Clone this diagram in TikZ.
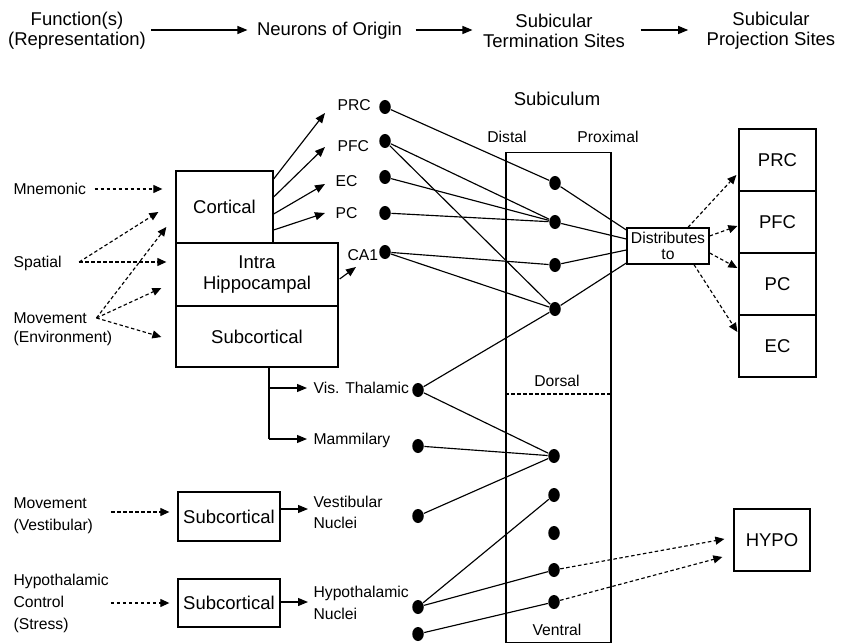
\documentclass[tikz,border=0pt]{standalone}
\usepackage{fontspec}
\setmainfont{Liberation Sans}
\usetikzlibrary{arrows.meta,shapes.geometric,calc}
\begin{document}
\begin{tikzpicture}[x=1pt,y=-1pt,line width=1.15pt,
  big/.style={font=\fontsize{18.5}{20}\selectfont, inner sep=0pt, align=center},
  sm/.style={font=\fontsize{15.7}{19}\selectfont, inner sep=0pt, anchor=west},
  smc/.style={font=\fontsize{15.7}{19}\selectfont, inner sep=0pt},
  box/.style={draw, line width=1.3pt, inner sep=0pt, font=\fontsize{18.5}{21}\selectfont, align=center},
  dot/.style={ellipse, fill=black, minimum width=11.5pt, minimum height=14pt, inner sep=0pt},
  arr/.style={-{Triangle[length=10pt,width=8pt]}},
  darr/.style={dash pattern=on 3.5pt off 2.5pt, -{Triangle[length=9pt,width=8pt]}},
  dsh/.style={dash pattern=on 3.5pt off 2.5pt}
]
\useasboundingbox (0,0) rectangle (842,644);

% header
\node[big] (fn) at (77,31) {Function(s)\\(Representation)};
\node[big] (neur) at (329.5,31) {Neurons of Origin};
\node[big] (term) at (554,31) {Subicular\\Termination Sites};
\node[big] (proj) at (771,31) {Subicular\\Projection Sites};
\draw[arr] ($(fn.east |- neur.west)+(5,-1)$) -- ($(neur.west)+(-9,-1)$);
\draw[arr] ($(neur.east)+(13,-1)$) -- ($(term.west |- neur.west)+(-10,-1)$);
\draw[arr] ($(term.east |- neur.west)+(15,-1)$) -- ($(proj.west |- neur.west)+(-18,-1)$);

% subiculum
\node[big] (subic) at (557,99) {Subiculum};
\node[smc] (distal) at (507,137) {Distal};
\node[smc] (prox) at (608,137) {Proximal};
\node[draw, minimum width=105pt, minimum height=490pt, inner sep=0pt] (sub) at (558.5,397.5) {};
\node[smc] (dorsal) at (557,381) {Dorsal};
\coordinate (dl) at (0,394);
\draw[dsh] (sub.west |- dl) -- (sub.east |- dl);
\node[smc] (ventral) at (557,630) {Ventral};

% left labels
\node[sm] (mnem) at (13,189) {Mnemonic};
\node[sm] (spat) at (13,263) {Spatial};
\node[sm] (mov) at (13,318) {Movement};
\node[sm] (env) at (13,338) {(Environment)};

% left boxes
\node[box, minimum width=97pt, minimum height=72pt] (cort) at (224.5,207) {Cortical};
\node[box, minimum width=162pt, minimum height=63pt] (intra) at (257,274.5) {Intra\\Hippocampal};
\node[box, minimum width=162pt, minimum height=61pt] (subc) at (257,336.5) {Subcortical};

% function arrows
\draw[darr] ($(mnem.east)+(8,0)$) -- ($(cort.west)+(-13,-18)$);
\draw[darr] ($(spat.east)+(17,-1)$) -- ($(cort.west)+(-17,5)$);
\draw[darr] ($(spat.east)+(17,-1)$) -- ($(intra.west)+(-9,-12.5)$);
\draw[darr] ($(mov.east)+(9,0)$) -- ($(cort.west)+(-9,20)$);
\draw[darr] ($(mov.east)+(9,0)$) -- ($(intra.west)+(-14,13.5)$);
\draw[darr] ($(mov.east)+(9,0)$) -- ($(subc.west)+(-14,0.5)$);

% neuron labels
\node[sm] (lprc) at (337,105) {PRC};
\node[sm] (lpfc) at (337,146) {PFC};
\node[sm] (lec) at (335,181) {EC};
\node[sm] (lpc) at (335,213) {PC};
\node[sm] (lca) at (347,255) {CA1};

\draw[arr] ($(cort.east)+(0,-28)$) -- ($(lprc.west)+(-12,8)$);
\draw[arr] ($(cort.east)+(0,-10)$) -- ($(lpfc.west)+(-12,1)$);
\draw[arr] ($(cort.east)+(0,7)$) -- ($(lec.west)+(-10,3)$);
\draw[arr] ($(cort.east)+(0,23)$) -- ($(lpc.west)+(-10,0)$);
\draw[arr] ($(intra.east)+(1,4.5)$) -- ($(lca.west)+(9,12)$);

% subcortical branches
\node[sm] (lvis) at (313,388) {Vis. Thalamic};
\node[sm] (lmam) at (313,440) {Mammilary};
\coordinate (j1) at (269,388);
\coordinate (j2) at (269,439);
\draw (subc.south -| j1) -- (j2);
\draw[arr] (j1) -- ($(lvis.west)+(-6,0)$);
\draw[arr] (j2) -- ($(lmam.west)+(-6,-1)$);

% vestibular
\node[sm] (mov2) at (13,503) {Movement};
\node[sm] (vest) at (13,526) {(Vestibular)};
\node[box, minimum width=102pt, minimum height=49pt] (sc2) at (229,516.5) {Subcortical};
\draw[darr] ($(mov2.east)+(24,9)$) -- ($(sc2.west)+(-8,-4.5)$);
\node[sm] (lvb) at (313,502) {Vestibular};
\node[sm] (lnu1) at (313,523) {Nuclei};
\draw[arr] ($(sc2.east)+(0,-7.5)$) -- ($(lvb.west)+(-5,7)$);

% hypothalamic
\node[sm] (hy1) at (13,581) {Hypothalamic};
\node[sm] (ctrl) at (13,602) {Control};
\node[sm] (strs) at (13,625) {(Stress)};
\node[box, minimum width=102pt, minimum height=48pt] (sc3) at (229,603) {Subcortical};
\draw[darr] ($(ctrl.east)+(46,1)$) -- ($(sc3.west)+(-8,0)$);
\node[sm] (lhn) at (313,593) {Hypothalamic};
\node[sm] (lnu2) at (313,614) {Nuclei};
\draw[arr] ($(sc3.east)+(0,-1)$) -- ($(lhn.west)+(-5,9)$);

% dots
\node[dot] (p1) at (385,107) {};
\node[dot] (p2) at (385,141) {};
\node[dot] (p3) at (385,177) {};
\node[dot] (p4) at (385,213) {};
\node[dot] (ca) at (385,252) {};
\node[dot] (r1) at (555,183) {};
\node[dot] (r2) at (555,222) {};
\node[dot] (r3) at (555,265) {};
\node[dot] (r4) at (555,309) {};
\node[dot] (v1) at (418,390) {};
\node[dot] (v2) at (418,446) {};
\node[dot] (v3) at (418,516) {};
\node[dot] (v4) at (418,607) {};
\node[dot] (v5) at (418,634) {};
\node[dot] (r5) at (554,456) {};
\node[dot] (r6) at (554,495) {};
\node[dot] (r7) at (554,533) {};
\node[dot] (r8) at (554,570) {};
\node[dot] (r9) at (554,602) {};

\draw (p1) -- (r1);
\draw (p2) -- (r2);
\draw (p2) -- (r4);
\draw (p3) -- (r2);
\draw (p4) -- (r2);
\draw (ca) -- (r3);
\draw (ca) -- (r4);
\draw (v1) -- (r4);
\draw (v1) -- (r5);
\draw (v2) -- (r5);
\draw (v3) -- (r5);
\draw (v4) -- (r6);
\draw (v4) -- (r8);
\draw (v5) -- (r9);

% distributes
\node[draw, line width=1.3pt, minimum width=82pt, minimum height=36pt, inner sep=0pt,
  font=\fontsize{15.7}{15.7}\selectfont, align=center] (dist) at (668,246) {Distributes\\to};
\draw (r1) -- ($(dist.west)+(0,-16)$);
\draw (r2) -- ($(dist.west)+(0,-7)$);
\draw (r3) -- ($(dist.west)+(0,4)$);
\draw (r4) -- ($(dist.west)+(0,17)$);

% projection boxes
\node[box, minimum width=77pt, minimum height=62pt] (prcb) at (777.5,160) {PRC};
\node[box, minimum width=77pt, minimum height=62pt] (pfcb) at (777.5,222) {PFC};
\node[box, minimum width=77pt, minimum height=62pt] (pcb) at (777.5,284) {PC};
\node[box, minimum width=77pt, minimum height=62pt] (ecb) at (777.5,346) {EC};
\node[box, minimum width=76pt, minimum height=62pt] (hypo) at (772,540) {HYPO};

\draw[darr] ($(dist.north)+(20,0)$) -- ($(prcb.west)+(-2,15)$);
\draw[darr] ($(dist.east)+(0,-10)$) -- ($(pfcb.west)+(-1,4)$);
\draw[darr] ($(dist.east)+(0,7)$) -- ($(pcb.west)+(-1,-16)$);
\draw[darr] ($(dist.south)+(26,0)$) -- ($(ecb.west)+(-1,-14)$);

\draw[darr] (r8) -- ($(hypo.west)+(-9,-1)$);
\draw[darr] (r9) -- ($(hypo.west)+(-11,17)$);
\end{tikzpicture}
\end{document}
